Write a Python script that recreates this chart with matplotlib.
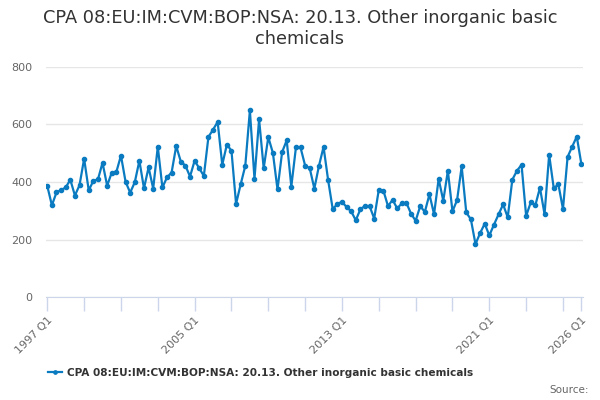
import matplotlib
matplotlib.use("Agg")
import matplotlib.pyplot as plt

TITLE = "CPA 08:EU:IM:CVM:BOP:NSA: 20.13. Other inorganic basic chemicals"

# quarterly values, 1997 Q1 .. 2026 Q1
values = [
    386, 319, 364, 372, 381, 408, 353, 389, 481, 371,
    404, 409, 467, 387, 433, 435, 492, 401, 363, 399,
    474, 378, 451, 377, 523, 381, 416, 433, 525, 471,
    457, 419, 474, 448, 421, 557, 582, 609, 460, 530,
    509, 324, 392, 456, 649, 411, 618, 448, 556, 501,
    374, 504, 545, 384, 520, 520, 457, 448, 377, 456,
    522, 406, 305, 324, 331, 313, 298, 267, 305, 317,
    316, 273, 373, 370, 316, 338, 308, 326, 327, 290,
    265, 316, 296, 357, 288, 411, 335, 439, 298, 337,
    454, 294, 270, 184, 222, 255, 214, 251, 287, 322,
    277, 408, 439, 460, 282, 329, 319, 380, 288, 495,
    378, 392, 306, 487, 523, 558, 462,
]
quarters = [f"{1997 + k // 4} Q{k % 4 + 1}" for k in range(len(values))]
label_quarters = ["1997 Q1", "2005 Q1", "2013 Q1", "2021 Q1", "2026 Q1"]
y_ticks = [0, 200, 400, 600, 800]

line_color = "#0a7bc1"
grid_color = "#e6e6e6"
axis_color = "#ccd6eb"

fig = plt.figure(figsize=(6, 4), dpi=100)
ax = fig.add_axes([46 / 600, 103 / 400, 537 / 600, 230 / 400])

x = list(range(len(values)))
line, = ax.plot(x, values, color=line_color, lw=1.6, marker="o", markersize=3.0,
                label=TITLE, zorder=3)

ax.set_ylim(0, 800)
ax.set_xlim(-0.28, len(values) - 1 + 0.35)
ax.set_yticks(y_ticks)
ax.set_yticklabels([str(v) for v in y_ticks])
ax.yaxis.grid(True, color=grid_color, lw=1)
ax.set_axisbelow(True)

# tick marks every 2 years, labels only on a few
minor = list(range(0, len(values), 8)) + [len(values) - 1]
ax.set_xticks(minor, minor=True)
major = [quarters.index(q) for q in label_quarters]
ax.set_xticks(major)
ax.set_xticklabels(label_quarters, rotation=45, ha="right", rotation_mode="anchor")

ax.tick_params(axis="x", which="both", length=10, width=1, color=axis_color,
               direction="out", pad=3)
ax.tick_params(axis="x", labelsize=8, labelcolor="#666666")
ax.tick_params(axis="y", length=0, labelsize=8, labelcolor="#666666", pad=10)

for s in ["top", "right", "left"]:
    ax.spines[s].set_visible(False)
ax.spines["bottom"].set_color(axis_color)

fig.text(0.5, 1 - 18 / 400, "CPA 08:EU:IM:CVM:BOP:NSA: 20.13. Other inorganic basic",
         ha="center", va="center", fontsize=12.8, color="#333333")
fig.text(0.5, 1 - 39 / 400, "chemicals", ha="center", va="center",
         fontsize=12.8, color="#333333")

fig.legend(handles=[line], loc="center", bbox_to_anchor=(261 / 600, 1 - 373 / 400),
           frameon=False, prop={"weight": "bold", "size": 7.6}, labelcolor="#333333",
           handlelength=1.3, handletextpad=0.5, markerscale=0.8)

fig.text(589 / 600, 1 - 390 / 400, "Source:", ha="right", va="center",
         fontsize=7.5, color="#666666")

fig.savefig("out.png", dpi=100)
